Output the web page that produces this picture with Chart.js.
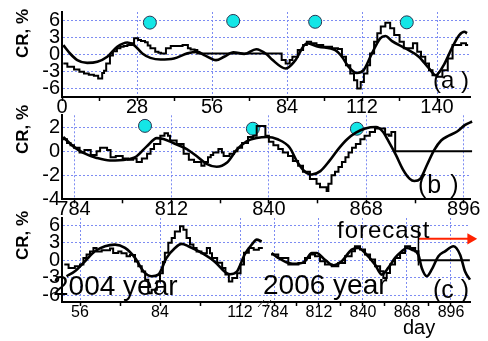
<!DOCTYPE html>
<html>
<head>
<meta charset="utf-8">
<script src="https://cdn.jsdelivr.net/npm/chart.js@4.4.1/dist/chart.umd.min.js"></script>
<style>
    html, body { margin: 0; padding: 0; background: #fff; }
    #wrap { position: relative; width: 488px; height: 341px; overflow: hidden; font-family: "Liberation Sans", Arial, sans-serif; color: #000; }
    #wrap canvas { position: absolute; }
    .lbl { position: absolute; white-space: pre; line-height: 1; }
    .ytitle { position: absolute; width: 60px; height: 17px; line-height: 17px; font-size: 17px; font-weight: bold; text-align: center; transform: rotate(-90deg); white-space: pre; }
</style>
</head>
<body>
<div id="wrap">
    <canvas id="chart-a" width="488" height="125" style="left:0;top:0"></canvas>
    <canvas id="chart-b" width="488" height="128" style="left:0;top:100px"></canvas>
    <canvas id="chart-c1" width="266" height="140" style="left:0;top:200px"></canvas>
    <canvas id="chart-c2" width="242" height="140" style="left:246px;top:200px"></canvas>

    <div class="ytitle" style="left:-8px;top:25px">CR, %</div>
    <div class="ytitle" style="left:-8px;top:121px">CR, %</div>
    <div class="ytitle" style="left:-8px;top:227px">CR, %</div>

    <div class="lbl" style="left:433px;top:68px;font-size:24px">(a )</div>
    <div class="lbl" style="left:418px;top:172px;font-size:25px;letter-spacing:1px">(b )</div>
    <div class="lbl" style="left:433px;top:277px;font-size:25px">(c )</div>
    <div class="lbl" style="left:53px;top:272px;font-size:28px">2004 year</div>
    <div class="lbl" style="left:263px;top:271px;font-size:28px">2006 year</div>
    <div class="lbl" style="left:337px;top:218px;font-size:24px;letter-spacing:1px">forecast</div>
    <div class="lbl" style="left:403px;top:317px;font-size:20px">day</div>
</div>

<script>
    /* ---- data: panel (a), days 0..152 ---- */
    var aXLabels = [0, 28, 56, 84, 112, 140];
    var aYTicks = [-6, -3, 0, 3, 6];
    var aStepDay = [0.5, 2, 4.5, 6.5, 8.2, 10, 11.9, 13.5, 15, 15.7, 16.5, 17.9, 19, 20.5, 21.8, 23, 24.4, 26.1, 26.9, 28.4,
        29.5, 31, 32, 33, 34.8, 36, 37, 38.8, 40.6, 45, 47, 48, 49.5, 50.5, 82, 83.5, 85, 86, 88, 90,
        91.4, 93, 95, 97.5, 100.8, 103, 104.5, 106, 107.6, 109, 110.2, 111.5, 112.7, 114, 115, 116.5, 117.7, 119, 120.7, 122.5,
        124, 126, 127.6, 131, 132.6, 134, 135.6, 137, 138.3, 140.2, 142, 144, 145.8, 149, 150.8, 151.6];
    var aStepVal = [-1.6, -2.2, -2.7, -3.1, -3.4, -3.6, -3.8, -4.3, -3.3, -2.9, -1.6, -0.2, 0.6, 1.1, 1.4, 1.5, 1.7, 2.0, 2.9, 2.6,
        2.4, 2.2, 1.6, 1.1, 0.5, 0.3, 0.2, 1.1, 1.5, 1.7, 1.1, 0.9, 0.8, 0.2, -1.0, -1.6, -1.0, -0.4, 0.8, 1.7,
        2.3, 2.0, 1.7, 1.4, 1.1, 1.0, -0.4, -1.9, -3.4, -4.6, -6.1, -4.9, -3.4, -1.9, 0.2, 2.3, 3.8, 5.0, 5.7, 4.7,
        3.5, 2.3, 1.1, 2.0, 0.5, -0.4, -1.6, -2.8, -3.7, -4.0, -2.8, -0.7, 1.7, 2.0, 1.7, 1.7];
    var aFitDay = [0.5, 3, 5.7, 9.4, 13.2, 16.9, 20.6, 24.4, 26.9, 30, 33, 36.8, 41.8, 46.8, 50.5, 53.5, 57.5, 60.5, 64, 68,
        72.5, 76.5, 78.4, 83.5, 87, 91.4, 95.7, 102, 104.5, 107, 110, 112.6, 115.7, 118.8, 120.7, 123.2, 128.2, 133.2, 137, 139.5,
        142.6, 145.8, 148.3, 150.2, 151.2];
    var aFitVal = [1.67, 0.18, -1.0, -1.5, -1.3, -0.4, 1.37, 2.15, 1.67, 0.18, -0.6, -0.9, -0.7, 0.2, 0.47, -0.2, -1.0, -0.4, 0.4, 0.1,
        0.95, 0.0, -0.9, -2.5, -1.1, 2.0, 1.4, 0.77, -0.4, -2.2, -3.3, -2.8, 0.2, 2.9, 3.3, 2.4, 1.1, -0.4, -2.5, -3.7,
        -1.8, 1.4, 3.47, 4.06, 3.8];
    var aSpotDay = [32.8, 63.9, 94.5, 128.7];
    var aSpotVal = [5.7, 6.0, 5.85, 5.75];

    /* ---- data: panel (b), days 780..898 ---- */
    var bXLabels = [784, 812, 840, 868, 896];
    var bYTicks = [-4, -2, 0, 2];
    var bStepDay = [780.8, 782, 783, 784, 785.6, 787, 788.8, 790.5, 791.5, 793.5, 794.5, 796, 798, 799.5, 801, 802, 803.5, 805, 806, 807,
        808.8, 810, 811, 811.6, 813.5, 815.5, 817, 818.5, 820.6, 821.5, 822.5, 823.3, 824, 825.5, 826.5, 827, 828.7, 830, 831, 832.3,
        834, 835.5, 836.5, 839, 840, 841.3, 842.7, 844, 845.5, 846.9, 848.4, 849.8, 851.8, 853.7, 854.7, 856.6, 857.1, 858, 859, 860,
        861, 862, 862.9, 863.9, 865, 866.3, 867.5, 869, 870.5, 872, 873.4, 874.5, 875.2, 876.3, 898.4];
    var bStepVal = [1.0, 0.7, 0.5, 0.3, -0.1, 0.1, -0.3, 0.0, 0.3, 0.1, -0.5, -0.4, -0.6, -0.7, -0.6, -0.9, -0.6, -0.2, 0.2, 0.6,
        1.3, 1.5, 1.3, 0.9, 0.6, -0.2, -0.7, -0.9, -1.2, -0.9, -0.5, -0.3, -0.1, 0.2, -0.1, -0.4, -0.2, 0.0, 0.3, 0.7,
        1.2, 1.3, 2.1, 1.3, 0.8, 0.5, 0.2, -0.1, -0.4, -0.8, -1.2, -1.7, -2.3, -2.7, -3.0, -3.3, -2.7, -2.0, -1.7, -1.3,
        -0.9, -0.5, -0.1, 0.3, 0.6, 1.0, 1.3, 1.6, 1.9, 1.9, 1.4, 1.3, 1.6, 0, 0];
    var bFitDay = [780.9, 783.8, 786.7, 790.5, 794.3, 799.1, 802, 804.9, 807.8, 809.7, 812.5, 816.4, 819.3, 822.1, 825, 827.9, 830.8, 833.6, 836.5, 839.4,
        842.5, 846, 848, 850, 852.3, 854.8, 857.4, 860, 862.5, 865, 867.7, 870.8, 872.7, 874.4, 876.5, 878.5, 880.5, 881.8, 883.5, 885.5,
        887.5, 889.5, 891.7, 894.1, 896.4, 898.4];
    var bFitVal = [1.19, 0.41, -0.13, -0.55, -0.77, -0.69, -0.41, 0.41, 1.1, 1.03, 0.69, 0.19, -0.41, -1.04, -1.29, -0.96, 0.14, 0.83, 1.1, 1.19,
        1.0, 0.3, -0.8, -1.6, -1.93, -1.65, -0.8, 0.2, 1.0, 1.55, 1.9, 2.02, 1.65, 0.83, -0.3, -1.5, -2.3, -2.48, -2.3, -1.1,
        0.1, 0.9, 1.3, 1.65, 2.2, 2.48];
    var bSpotDay = [804.4, 835.4, 865.3];
    var bSpotVal = [2.12, 1.88, 1.88];

    /* ---- data: panel (c), 2004 part and 2006 part ---- */
    var cLXLabels = [56, 84, 112];
    var cRXLabels = [784, 812, 840, 868, 896];
    var cYTicks = [-6, -3, 0, 3, 6];
    var cLStepDay = [50.5, 52, 54.2, 56, 57.2, 58.3, 59.5, 60.7, 61.8, 63.6, 66.5, 67.6, 69.4, 70.5, 72.3, 73.5, 75.25, 76.4, 77.6, 78.8,
        79.9, 81.1, 82.9, 84, 85, 85.7, 86.9, 88.1, 89.2, 91, 92.2, 93.3, 94.5, 95.7, 96.8, 98.5, 100.4, 101.5, 102.2, 104,
        105.75, 106.9, 108.1, 109.3, 111, 112.2, 113.4, 115.1, 116.8, 118.6, 120];
    var cLStepVal = [-0.7, -1.3, -1.0, -0.7, 0.4, 1.0, 1.5, 2.1, 1.5, 1.7, 2.0, 1.25, 1.5, 1.2, 0.7, 0.9, -0.2, -1.0, -1.9, -3.3,
        -5.6, -5.0, -3.6, -2.2, -0.3, 1.3, 3.0, 3.8, 4.9, 5.8, 5.2, 3.8, 2.7, 2.1, 1.5, 1.2, 2.1, 1.2, 0.4, -0.4,
        -1.3, -2.4, -3.6, -3.0, -2.2, -0.7, 1.3, 2.1, 1.8, 2.1, 2.1];
    var cLFitDay = [51.3, 54.2, 57.75, 61.25, 64.75, 68.25, 71.75, 75.25, 78.2, 81.1, 83.4, 86.3, 89.25, 91.6, 93.9, 98.6, 103.25, 106.75, 108.5, 110.8,
        113.75, 116.1, 117.85, 119.6];
    var cLFitVal = [-2.72, -1.87, -0.17, 1.53, 2.39, 2.67, 2.1, 0.41, -1.87, -2.72, -2.44, 0.41, 2.1, 2.8, 2.39, 1.25, -0.28, -1.98, -2.38, -1.98,
        1.1, 2.67, 3.52, 3.2];
    var cRStepDay = [781.5, 786.1, 792.5, 798.9, 803.1, 806.3, 809.5, 812.7, 815.8, 820.1, 824.3, 828.6, 832.8, 834.9, 838.1, 841.3, 844.5, 847.7, 850.9, 853,
        855.1, 857.2, 860.4, 863.6, 866.8, 870, 873.2, 875.3, 908];
    var cRStepVal = [1.0, 0.4, -0.72, -0.44, 0.4, 0.97, 0.68, -0.17, -0.72, -1.0, -0.44, 0.68, 1.54, 2.4, 1.82, 0.97, 0.12, -1.0, -1.87, -3.0,
        -2.15, -0.72, 0.4, 1.25, 2.4, 2.1, 1.54, 0, 0];
    var cRFitDay = [781.9, 786.1, 792.5, 798.8, 803.1, 807.4, 810.5, 815.8, 821.1, 826.4, 832.8, 837, 841.3, 847.7, 851.9, 856.1, 860.4, 864.7, 867.8, 871,
        875.2, 877.4, 880.6, 883.7, 888, 892.2, 897.5, 901.8, 904.9, 908.1];
    var cRFitVal = [1.25, 0.4, -0.45, -0.6, -0.17, 1.25, 1.25, 0.1, -0.85, -0.17, 1.82, 2.1, 1.25, -0.74, -2.44, -1.3, 0.4, 1.53, 2.1, 1.82,
        0.96, -1.3, -2.7, -1.6, 0.7, 1.53, 2.4, 0.96, -1.87, -3.3];
    var cMarkDay = [875.3, 875.3];
    var cMarkVal = [5.6, -0.9];
    var cArrowDay = [875.5, 908.5];
    var cArrowVal = [3.65, 3.65];

    var GRID = '#7d8cf2';
    var CYAN = '#14e6e6';

    Chart.defaults.font.family = '"Liberation Sans", Arial, sans-serif';
    Chart.defaults.color = '#000';

    function pts(xs, ys) {
        return xs.map(function (x, i) { return { x: x, y: ys[i] }; });
    }

    function stepSet(xs, ys) {
        return { data: pts(xs, ys), stepped: 'before', borderColor: '#000', borderWidth: 2, pointRadius: 0, clip: false };
    }

    function fitSet(xs, ys) {
        return { data: pts(xs, ys), cubicInterpolationMode: 'monotone', borderColor: '#000', borderWidth: 2.6, pointRadius: 0, clip: false };
    }

    function spotSet(xs, ys) {
        return {
            data: pts(xs, ys), showLine: false, pointRadius: 6.5,
            pointBackgroundColor: CYAN, pointBorderColor: '#2a3550', pointBorderWidth: 1, clip: false
        };
    }

    // label ticks plus the half-way minor ticks between them
    function withMinor(labels) {
        var t = [];
        labels.forEach(function (v, i) {
            t.push(v);
            if (i < labels.length - 1) t.push((v + labels[i + 1]) / 2);
        });
        return t;
    }

    function panel(id, o) {
        var xt = withMinor(o.xLabels);
        var isMajor = function (v) { return o.xLabels.indexOf(v) >= 0; };
        return new Chart(document.getElementById(id), {
            type: 'line',
            data: { datasets: o.datasets },
            options: {
                responsive: false,
                animation: false,
                events: [],
                layout: { padding: o.pad },
                plugins: { legend: { display: false }, tooltip: { enabled: false } },
                scales: {
                    x: {
                        type: 'linear', min: o.xMin, max: o.xMax,
                        afterBuildTicks: function (s) {
                            s.ticks = xt.filter(function (v) { return v >= o.xMin && v <= o.xMax; })
                                .map(function (v) { return { value: v }; });
                        },
                        afterFit: function (s) { s.height = o.xHeight; },
                        ticks: {
                            autoSkip: false, maxRotation: 0, padding: o.xPad,
                            font: { size: o.xFont, lineHeight: 1 },
                            callback: function (v) { return isMajor(v) ? String(v) : ''; }
                        },
                        grid: {
                            color: function (c) { return c.tick && isMajor(c.tick.value) ? GRID : 'rgba(0,0,0,0)'; },
                            lineWidth: 1, tickColor: '#000', tickLength: 4, tickWidth: 1.5
                        },
                        border: { color: '#000', width: 2, dash: [2, 2] }
                    },
                    y: {
                        min: o.yMin, max: o.yMax,
                        afterBuildTicks: function (s) {
                            s.ticks = o.yTicks.map(function (v) { return { value: v }; });
                        },
                        afterFit: function (s) { s.width = o.yWidth; },
                        ticks: {
                            display: o.yWidth > 0, autoSkip: false, padding: 2,
                            font: { size: 20, lineHeight: 1 },
                            callback: function (v) { return String(v); }
                        },
                        grid: { color: GRID, lineWidth: 1, drawTicks: false },
                        border: { display: o.yWidth > 0, color: '#000', width: 2, dash: [2, 2] }
                    }
                }
            },
            plugins: o.plugins || []
        });
    }

    /* Panel (a) */
    panel('chart-a', {
        xMin: 0, xMax: 152.3, yMin: -7.6, yMax: 7.6,
        xLabels: aXLabels, yTicks: aYTicks,
        pad: { top: 12, right: 18, left: 0, bottom: 0 },
        yWidth: 62, xHeight: 28, xFont: 20, xPad: -4,
        datasets: [stepSet(aStepDay, aStepVal), fitSet(aFitDay, aFitVal), spotSet(aSpotDay, aSpotVal)]
    });

    /* Panel (b) */
    panel('chart-b', {
        xMin: 780.55, xMax: 897.8, yMin: -4, yMax: 3,
        xLabels: bXLabels, yTicks: bYTicks,
        pad: { top: 15.3, right: 18, left: 0, bottom: 0 },
        yWidth: 62, xHeight: 28.7, xFont: 20, xPad: -4,
        datasets: [stepSet(bStepDay, bStepVal), fitSet(bFitDay, bFitVal), spotSet(bSpotDay, bSpotVal)]
    });

    /* Panel (c), 2004 part */
    panel('chart-c1', {
        xMin: 49.7, xMax: 121.1, yMin: -7.1, yMax: 7.2,
        xLabels: cLXLabels, yTicks: cYTicks,
        pad: { top: 18, right: 0, left: 0, bottom: 0 },
        yWidth: 62, xHeight: 38, xFont: 16, xPad: -1.5,
        datasets: [stepSet(cLStepDay, cLStepVal), fitSet(cLFitDay, cLFitVal)]
    });

    // axis break marks "//" between the two parts
    var breakMarks = {
        id: 'breakMarks',
        afterDraw: function (chart) {
            var ctx = chart.ctx;
            var l = chart.chartArea.left;
            var b = chart.chartArea.bottom;
            ctx.save();
            ctx.strokeStyle = '#333';
            ctx.lineWidth = 1;
            ctx.beginPath();
            ctx.moveTo(l - 8, b + 5); ctx.lineTo(l - 2, b - 2);
            ctx.moveTo(l - 1, b + 5); ctx.lineTo(l + 5, b - 2);
            ctx.stroke();
            ctx.restore();
        }
    };

    /* Panel (c), 2006 part with forecast */
    panel('chart-c2', {
        xMin: 778.3, xMax: 908.1, yMin: -7.1, yMax: 7.2,
        xLabels: cRXLabels, yTicks: cYTicks,
        pad: { top: 18, right: 18, left: 20, bottom: 0 },
        yWidth: 0, xHeight: 38, xFont: 16, xPad: -1.5,
        plugins: [breakMarks],
        datasets: [
            stepSet(cRStepDay, cRStepVal),
            fitSet(cRFitDay, cRFitVal),
            { data: pts(cMarkDay, cMarkVal), borderColor: '#000', borderWidth: 1.5, pointRadius: 0, clip: false },
            {
                data: pts(cArrowDay, cArrowVal), borderColor: '#ff2200', borderWidth: 2,
                pointRadius: [0, 4.5], pointStyle: 'triangle', rotation: 90,
                pointBackgroundColor: '#ff2200', pointBorderColor: '#ff2200', clip: false
            }
        ]
    });
</script>
</body>
</html>
